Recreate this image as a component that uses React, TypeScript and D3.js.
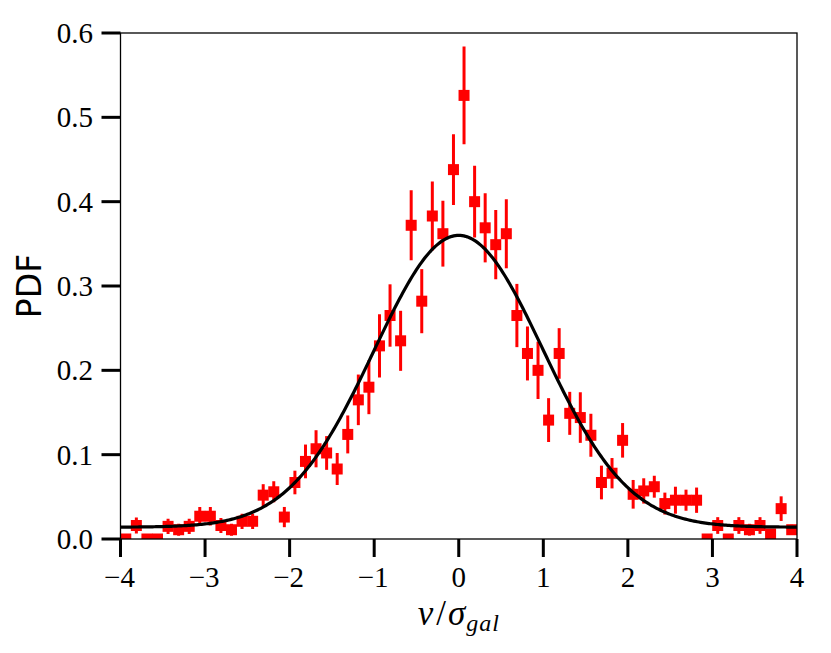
import * as d3 from "d3";
import { useEffect, useRef } from "react";

// Histogram bin centres in v / sigma_gal.
const binCenters = [
  -3.9375, -3.8125, -3.6875, -3.5625, -3.4375, -3.3125, -3.1875, -3.0625,
  -2.9375, -2.8125, -2.6875, -2.5625, -2.4375, -2.3125, -2.1875, -2.0625,
  -1.9375, -1.8125, -1.6875, -1.5625, -1.4375, -1.3125, -1.1875, -1.0625,
  -0.9375, -0.8125, -0.6875, -0.5625, -0.4375, -0.3125, -0.1875, -0.0625,
  0.0625, 0.1875, 0.3125, 0.4375, 0.5625, 0.6875, 0.8125, 0.9375,
  1.0625, 1.1875, 1.3125, 1.4375, 1.5625, 1.6875, 1.8125, 1.9375,
  2.0625, 2.1875, 2.3125, 2.4375, 2.5625, 2.6875, 2.8125, 2.9375,
  3.0625, 3.1875, 3.3125, 3.4375, 3.5625, 3.6875, 3.8125, 3.9375,
];

const pdfValues = [
  0, 0.016, 0, 0, 0.015, 0.011, 0.015, 0.027,
  0.027, 0.016, 0.011, 0.021, 0.021, 0.052, 0.056, 0.026,
  0.067, 0.092, 0.107, 0.102, 0.083, 0.124, 0.165, 0.18,
  0.229, 0.265, 0.235, 0.372, 0.282, 0.383, 0.362, 0.438,
  0.526, 0.4, 0.369, 0.349, 0.362, 0.265, 0.22, 0.2,
  0.141, 0.22, 0.149, 0.144, 0.123, 0.067, 0.078, 0.117,
  0.053, 0.057, 0.062, 0.042, 0.046, 0.046, 0.046, 0,
  0.016, 0, 0.016, 0.011, 0.016, 0.006, 0.036, 0.011,
];

const pdfErrors = [
  0, 0.0095, 0, 0, 0.009, 0.007, 0.009, 0.011,
  0.011, 0.009, 0.007, 0.009, 0.009, 0.013, 0.0125, 0.012,
  0.014, 0.02, 0.022, 0.02, 0.019, 0.0225, 0.03, 0.032,
  0.0375, 0.037, 0.0356, 0.0415, 0.038, 0.041, 0.039, 0.042,
  0.058, 0.0425, 0.041, 0.041, 0.041, 0.0375, 0.032, 0.034,
  0.026, 0.03, 0.0255, 0.03, 0.0255, 0.02, 0.018, 0.0205,
  0.017, 0.015, 0.013, 0.013, 0.016, 0.0125, 0.015, 0,
  0.0099, 0, 0.0099, 0.007, 0.0099, 0.005, 0.0146, 0.006,
];

const xTicks = [-4, -3, -2, -1, 0, 1, 2, 3, 4];
const yTicks = [0, 0.1, 0.2, 0.3, 0.4, 0.5, 0.6];

// Gaussian fit (amplitude, width, constant floor).
const fitAmplitude = 0.346;
const fitSigma = 1.0;
const fitBaseline = 0.014;

export default function App() {
  const ref = useRef<SVGSVGElement>(null);

  useEffect(() => {
    const width = 831;
    const height = 653;
    const marginLeft = 120.5;
    const marginRight = 34;
    const marginTop = 33;
    const marginBottom = 114;

    const svg = d3.select(ref.current);
    svg.selectAll("*").remove();

    const x = d3
      .scaleLinear()
      .domain([-4, 4])
      .range([marginLeft, width - marginRight]);
    const y = d3
      .scaleLinear()
      .domain([0, 0.6])
      .range([height - marginBottom, marginTop]);

    svg
      .append("defs")
      .append("clipPath")
      .attr("id", "plot-clip")
      .append("rect")
      .attr("x", marginLeft)
      .attr("y", marginTop)
      .attr("width", width - marginRight - marginLeft)
      .attr("height", height - marginBottom - marginTop);

    const plot = svg.append("g").attr("clip-path", "url(#plot-clip)");

    const points = binCenters.map((c, i) => ({
      x: c,
      v: pdfValues[i],
      e: pdfErrors[i],
    }));

    // Error bars.
    plot
      .append("g")
      .attr("stroke", "#ff0000")
      .attr("stroke-width", 3)
      .selectAll("line")
      .data(points.filter((d) => d.e > 0))
      .join("line")
      .attr("x1", (d) => x(d.x))
      .attr("x2", (d) => x(d.x))
      .attr("y1", (d) => y(d.v - d.e))
      .attr("y2", (d) => y(d.v + d.e));

    // Square markers.
    const size = 11;
    plot
      .append("g")
      .attr("fill", "#ff0000")
      .selectAll("rect")
      .data(points)
      .join("rect")
      .attr("x", (d) => x(d.x) - size / 2)
      .attr("y", (d) => y(d.v) - size / 2)
      .attr("width", size)
      .attr("height", size);

    // Fitted curve.
    const curveX = d3.range(-4, 4.001, 0.02);
    const line = d3
      .line<number>()
      .x((d) => x(d))
      .y((d) =>
        y(fitBaseline + fitAmplitude * Math.exp(-(d * d) / (2 * fitSigma * fitSigma))),
      );
    plot
      .append("path")
      .attr("d", line(curveX))
      .attr("fill", "none")
      .attr("stroke", "#000")
      .attr("stroke-width", 3.2);

    // Frame.
    svg
      .append("rect")
      .attr("x", marginLeft)
      .attr("y", marginTop)
      .attr("width", width - marginRight - marginLeft)
      .attr("height", height - marginBottom - marginTop)
      .attr("fill", "none")
      .attr("stroke", "#000")
      .attr("stroke-width", 1.3);

    const tickFont = "'Liberation Serif', 'Times New Roman', serif";

    // Bottom ticks.
    const xAxis = svg.append("g");
    xAxis
      .selectAll("line")
      .data(xTicks)
      .join("line")
      .attr("x1", (d) => x(d))
      .attr("x2", (d) => x(d))
      .attr("y1", y(0))
      .attr("y2", y(0) + 18)
      .attr("stroke", "#000")
      .attr("stroke-width", 3);
    xAxis
      .selectAll("text")
      .data(xTicks)
      .join("text")
      .attr("x", (d) => x(d) + (d < 0 ? -1 : 0))
      .attr("y", 587)
      .attr("text-anchor", "middle")
      .attr("font-family", tickFont)
      .attr("font-size", 29)
      .text((d) => (d < 0 ? "\u2212" + Math.abs(d) : String(d)));

    // Left ticks.
    const yAxis = svg.append("g");
    yAxis
      .selectAll("line")
      .data(yTicks)
      .join("line")
      .attr("x1", marginLeft - 19)
      .attr("x2", marginLeft)
      .attr("y1", (d) => y(d))
      .attr("y2", (d) => y(d))
      .attr("stroke", "#000")
      .attr("stroke-width", 3);
    yAxis
      .selectAll("text")
      .data(yTicks)
      .join("text")
      .attr("x", 93)
      .attr("y", (d) => y(d))
      .attr("dy", "0.34em")
      .attr("text-anchor", "end")
      .attr("font-family", tickFont)
      .attr("font-size", 29)
      .text((d) => d.toFixed(1));

    // Axis labels.
    const xLabel = svg
      .append("text")
      .attr("x", (marginLeft + width - marginRight) / 2)
      .attr("y", 625)
      .attr("text-anchor", "middle")
      .attr("font-family", tickFont)
      .attr("font-size", 35);
    xLabel.append("tspan").attr("font-style", "italic").text("v");
    xLabel.append("tspan").attr("dx", 3).text("/");
    xLabel.append("tspan").attr("dx", 2).attr("font-style", "italic").text("\u03c3");
    xLabel
      .append("tspan")
      .attr("font-style", "italic")
      .attr("font-size", 24)
      .attr("dx", 1)
      .attr("dy", 6)
      .attr("letter-spacing", 1)
      .text("gal");

    svg
      .append("text")
      .attr("transform", `translate(41,${(marginTop + height - marginBottom) / 2}) rotate(-90)`)
      .attr("text-anchor", "middle")
      .attr("font-family", "'DejaVu Sans', sans-serif")
      .attr("font-size", 33)
      .text("PDF");
  }, []);

  return (
    <svg
      ref={ref}
      width={831}
      height={653}
      style={{ position: "absolute", left: 0, top: 0, background: "#fff" }}
    />
  );
}
